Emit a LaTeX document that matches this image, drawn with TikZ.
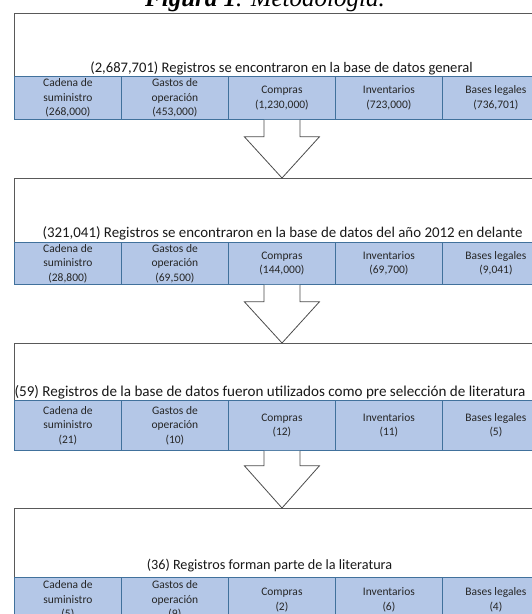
\documentclass[tikz,border=0pt]{standalone}
\usepackage{fontspec}
\setmainfont{Liberation Serif}
\newfontfamily\calibri{Carlito}
\usetikzlibrary{calc,positioning}
\definecolor{celdaazul}{HTML}{B4C7E7}
\definecolor{bordeazul}{HTML}{41719C}
\definecolor{bordegris}{HTML}{595959}
\tikzset{
  registrobox/.style={draw=bordegris,fill=white,line width=1pt,anchor=north west,
    minimum width=535pt,inner sep=0pt},
  tablacell/.style={draw=bordeazul,fill=celdaazul,line width=0.8pt,anchor=north west,
    minimum width=107pt,inner sep=0pt,align=center,text=black!85,
    font=\calibri\fontsize{11.5}{14.5}\selectfont},
  encabezado/.style={font=\calibri\fontsize{#1}{16}\selectfont,text=black!90,inner sep=0pt},
  flechabloque/.style={draw=black!70,fill=white,line width=0.8pt,line join=miter}
}

\begin{document}
\begin{tikzpicture}[x=1pt,y=-1pt]
  \useasboundingbox (0,0) rectangle (532,614);
  \node[font=\fontsize{25}{27}\selectfont\itshape,anchor=base,inner sep=0pt] (titulo) at (265,6.5)
    {\textbf{Figura 1}. Metodología.};

  % base de datos general
  \node[registrobox,minimum height=106pt] (caja1) at (14,13) {};
  \node[encabezado=14.6] (enc1) at (281.5,68.5) {(2,687,701) Registros se encontraron en la base de datos general};
  \foreach \i/\txt in {0/{Cadena de\\suministro\\(268,000)},1/{Gastos de\\operación\\(453,000)},
      2/{Compras\\(1,230,000)},3/{Inventarios\\(723,000)},4/{Bases legales\\(736,701)}}
    \node[tablacell,minimum height=43pt] (t1-\i) at (14+107*\i,76) {\txt};

  % 2012 en delante
  \node[registrobox,minimum height=106pt] (caja2) at (14,178) {};
  \node[encabezado=14.9] (enc2) at (282.5,233) {(321,041) Registros se encontraron en la base de datos del año 2012 en delante};
  \foreach \i/\txt in {0/{Cadena de\\suministro\\(28,800)},1/{Gastos de\\operación\\(69,500)},
      2/{Compras\\(144,000)},3/{Inventarios\\(69,700)},4/{Bases legales\\(9,041)}}
    \node[tablacell,minimum height=42pt] (t2-\i) at (14+107*\i,242) {\txt};

  % pre seleccion
  \node[registrobox,minimum height=107pt] (caja3) at (14,343) {};
  \node[encabezado=15.1] (enc3) at (270,392.5) {(59) Registros de la base de datos fueron utilizados como pre selección de literatura};
  \foreach \i/\txt in {0/{Cadena de\\suministro\\(21)},1/{Gastos de\\operación\\(10)},
      2/{Compras\\(12)},3/{Inventarios\\(11)},4/{Bases legales\\(5)}}
    \node[tablacell,minimum height=50pt] (t3-\i) at (14+107*\i,400) {\txt};

  % literatura
  \node[registrobox,minimum height=114pt] (caja4) at (14,508) {};
  \node[encabezado=14.2] (enc4) at (269.5,566) {(36) Registros forman parte de la literatura};
  \foreach \i/\txt in {0/{Cadena de\\suministro\\(5)},1/{Gastos de\\operación\\(9)},
      2/{Compras\\(2)},3/{Inventarios\\(6)},4/{Bases legales\\(4)}}
    \node[tablacell,minimum height=45pt] (t4-\i) at (14+107*\i,577) {\txt};

  % flechas
  \foreach \a/\b/\s in {t1-2/caja2/17,t2-2/caja3/17,t3-2/caja4/15}
    \draw[flechabloque] ($(\a.south)+(-18,0)$) -- ++(0,\s) -- ++(-19.5,0) -- (\b.north)
      -- ($(\a.south)+(37.5,\s)$) -- ++(-19.5,0) -- ($(\a.south)+(18,0)$);
\end{tikzpicture}
\end{document}
